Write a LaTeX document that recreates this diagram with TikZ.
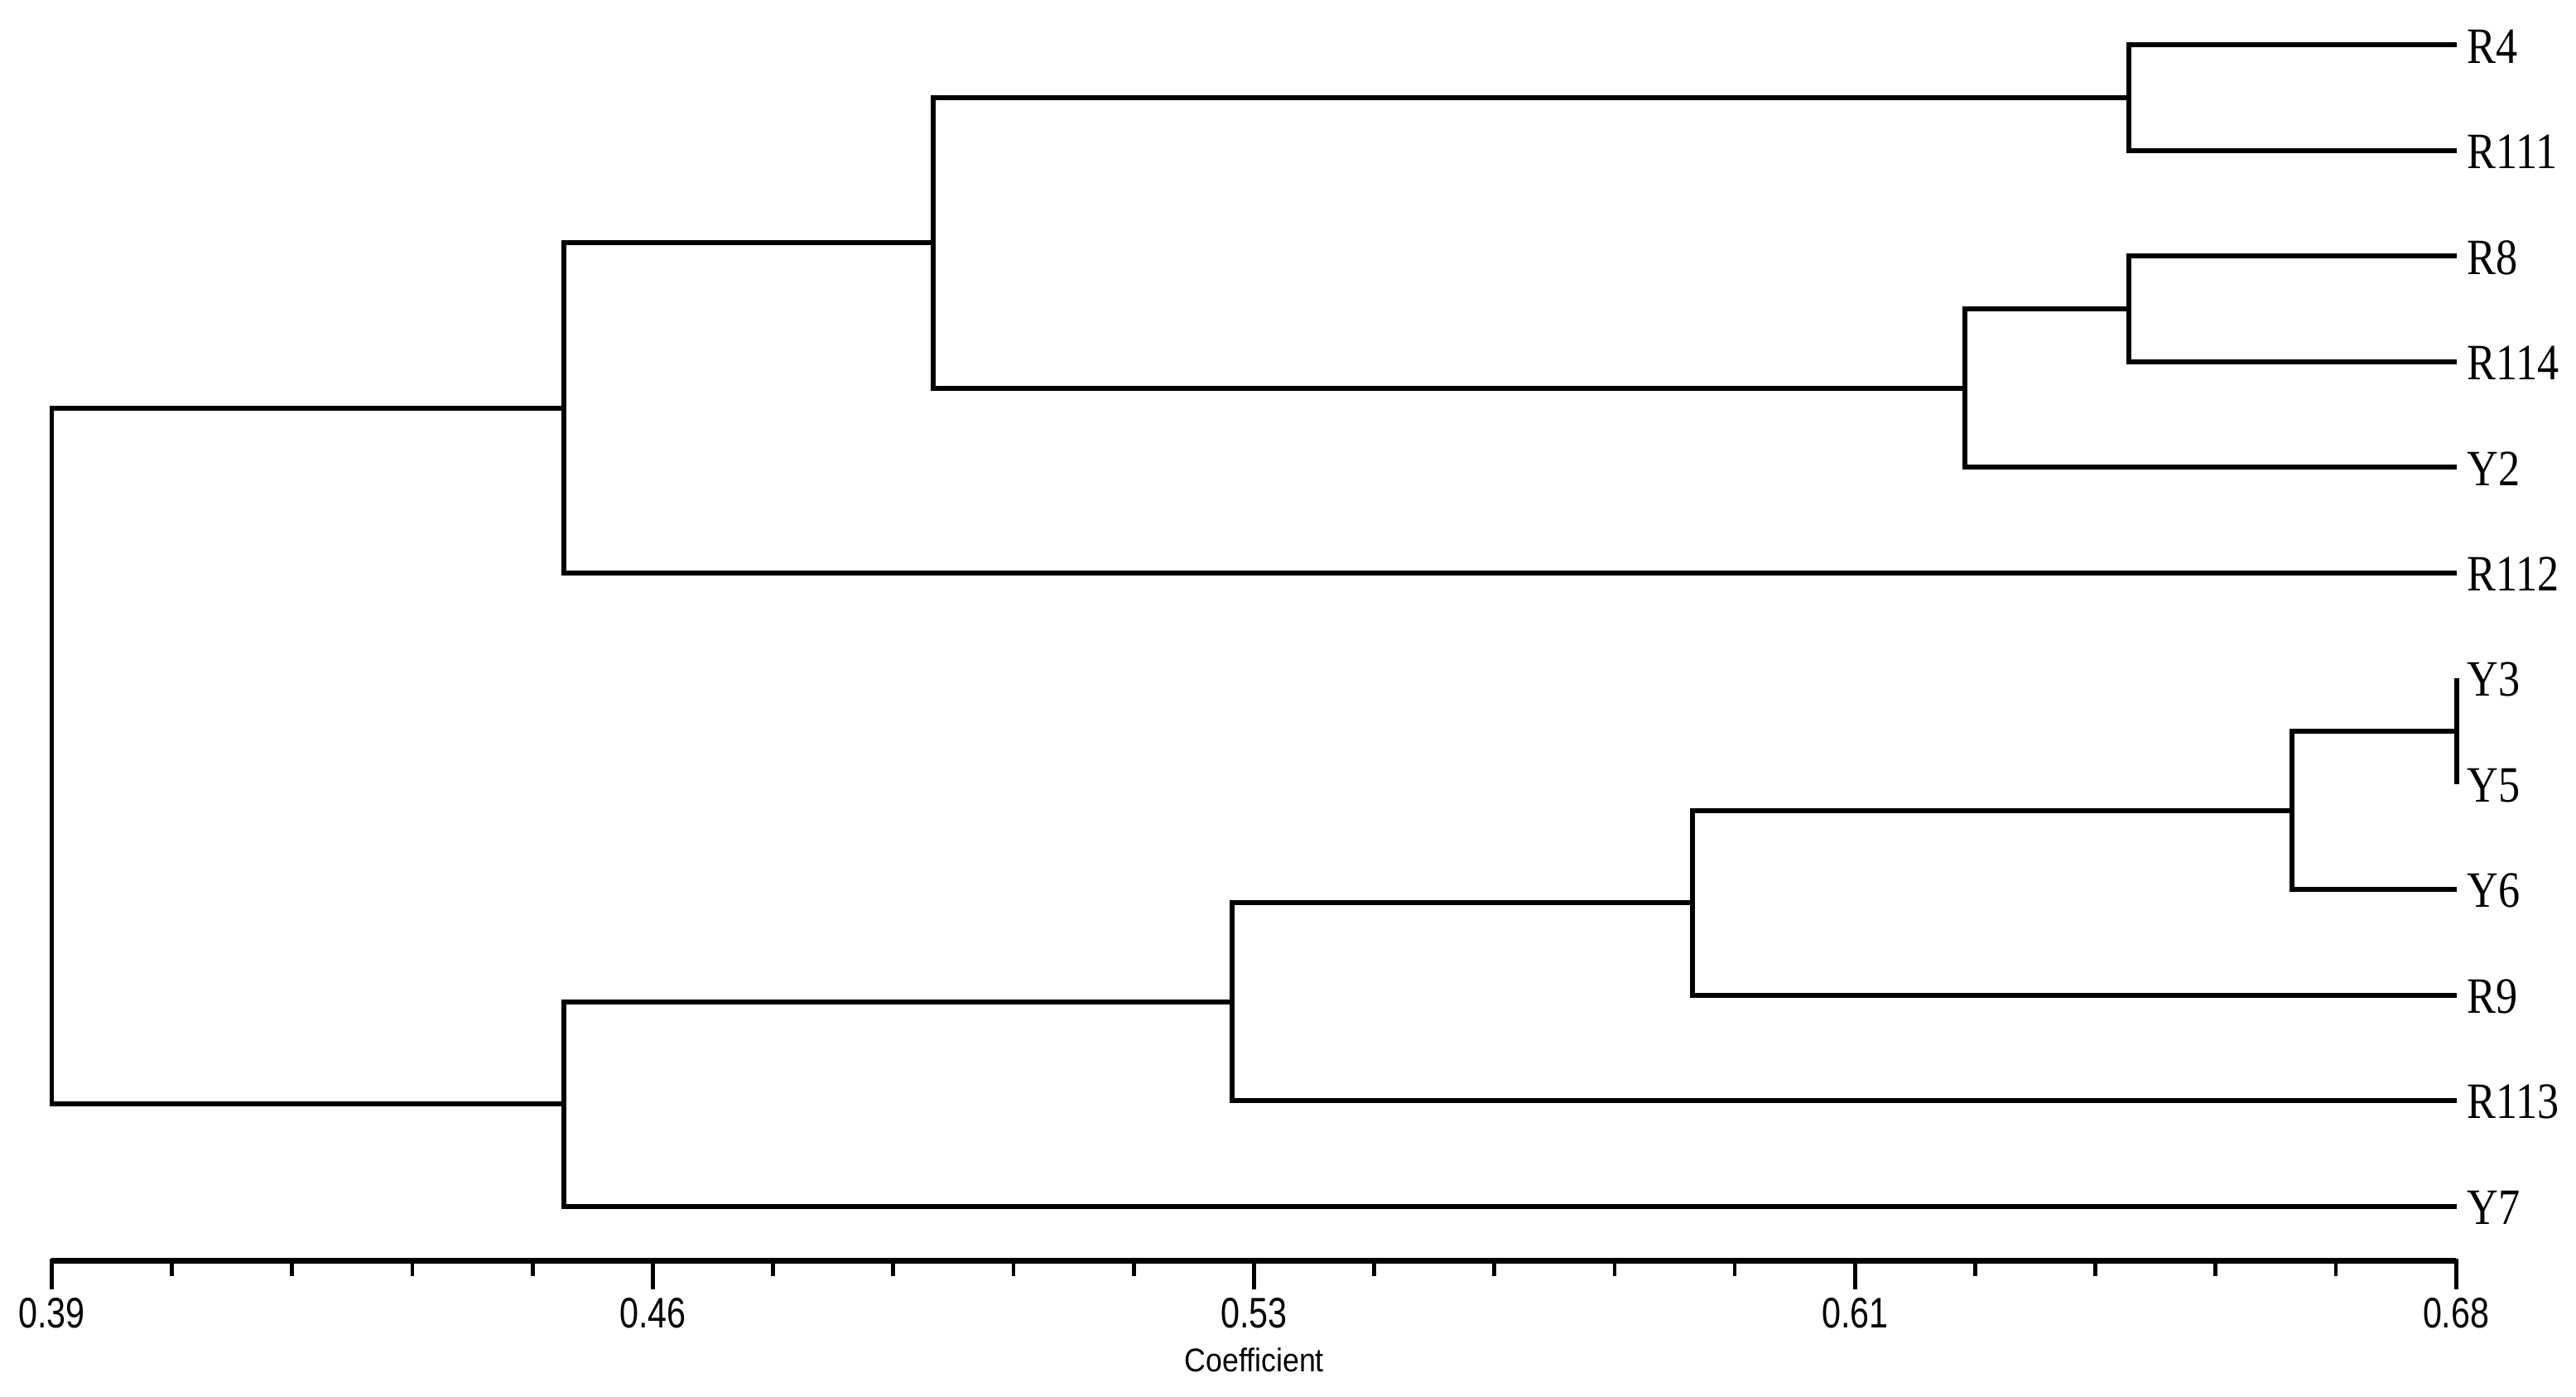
\documentclass[tikz,border=0pt]{standalone}
\usepackage{fontspec}
\newfontfamily\leaffont{Liberation Serif}
\newfontfamily\axisfont{Liberation Sans}
\begin{document}
\begin{tikzpicture}[x=1pt,y=-1pt,
  branch/.style={line width=3pt, line join=miter, line cap=butt},
  axisline/.style={line width=3.6pt},
  tickmark/.style={line width=2.4pt},
  leaf/.style={anchor=west, inner sep=0pt, font=\leaffont\fontsize{31}{36}\selectfont},
  ticklabel/.style={inner sep=0pt, font=\axisfont\fontsize{26}{30}\selectfont},
  axistitle/.style={inner sep=0pt, font=\axisfont\fontsize{20}{24}\selectfont}]
\useasboundingbox (0,0) rectangle (1568,850);
% leaf ends
\def\xe{1495.5}
\coordinate (eR4)   at (\xe,27.4);
\coordinate (eR111) at (\xe,91.65);
\coordinate (eR8)   at (\xe,155.9);
\coordinate (eR114) at (\xe,220.15);
\coordinate (eY2)   at (\xe,284.4);
\coordinate (eR112) at (\xe,348.65);
\coordinate (eY3)   at (\xe,412.9);
\coordinate (eY5)   at (\xe,477.15);
\coordinate (eY6)   at (\xe,541.4);
\coordinate (eR9)   at (\xe,605.65);
\coordinate (eR113) at (\xe,669.9);
\coordinate (eY7)   at (\xe,734.15);
% leaf labels
\foreach \n/\y in {R4/27.4,R111/91.65,R8/155.9,R114/220.15,Y2/284.4,R112/348.65,Y3/412.9,Y5/477.15,Y6/541.4,R9/605.65,R113/669.9,Y7/734.15}
  \node[leaf] (\n) at (1501.5,\y+0.8) {\scalebox{0.85}[1]{\n}};
% merge points
\coordinate (A) at (1296,59.5);
\coordinate (B) at (1296,188.0);
\coordinate (C) at (1196,236.2);
\coordinate (D) at (568,147.9);
\coordinate (E) at (343,248.3);
\coordinate (F) at (1495.5,445.0);
\coordinate (G) at (1395,493.2);
\coordinate (H) at (1030,549.4);
\coordinate (I) at (750,609.7);
\coordinate (J) at (343,671.9);
\coordinate (root) at (31.5,460.1);
% branches
\draw[branch] (eR4) -| (A) |- (eR111);
\draw[branch] (eR8) -| (B) |- (eR114);
\draw[branch] (B) -| (C) |- (eY2);
\draw[branch] (A) -| (D) |- (C);
\draw[branch] (D) -| (E) |- (eR112);
\draw[branch] (eY3) -| (F) |- (eY5);
\draw[branch] (F) -| (G) |- (eY6);
\draw[branch] (G) -| (H) |- (eR9);
\draw[branch] (H) -| (I) |- (eR113);
\draw[branch] (I) -| (J) |- (eY7);
\draw[branch] (E) -| (root) |- (J);
% axis
\coordinate (ax0) at (31.5,767.3);
\coordinate (ax1) at (1495,767.3);
\draw[axisline] (ax0) -- (ax1);
\foreach \k in {0,...,20}{
  \pgfmathsetmacro{\tx}{31.5+\k*73.175}
  \pgfmathtruncatemacro{\m}{mod(\k,5)}
  \ifnum\m=0
    \draw[tickmark] (\tx,766) -- (\tx,784.6);
  \else
    \draw[tickmark] (\tx,766) -- (\tx,776.7);
  \fi
}
\foreach \k/\lab in {0/0.39,5/0.46,10/0.53,15/0.61,20/0.68}{
  \pgfmathsetmacro{\tx}{31.5+\k*73.175}
  \node[ticklabel] (t\k) at (\tx,799) {\scalebox{0.8}[1]{\lab}};
}
\node[axistitle] (title) at (763.5,827.6) {\scalebox{0.9}[1]{Coefficient}};
\end{tikzpicture}
\end{document}
